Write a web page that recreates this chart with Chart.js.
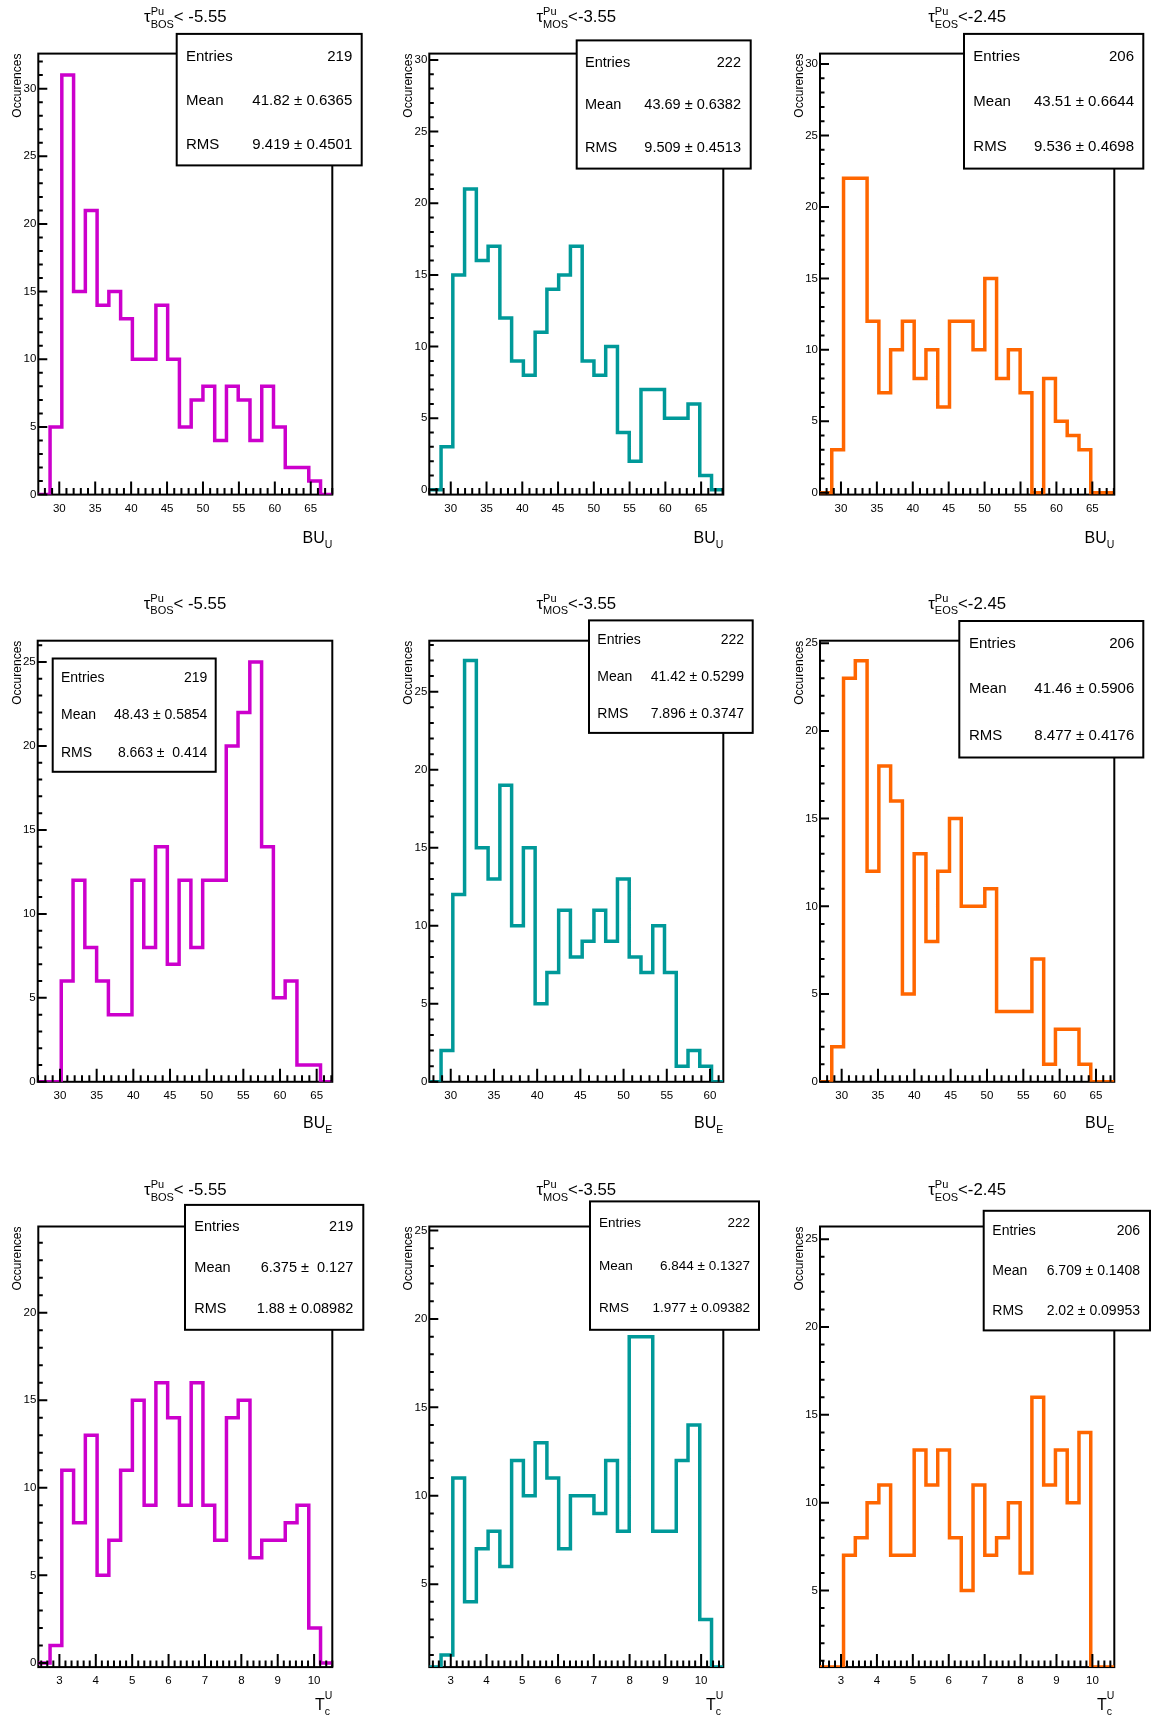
<!DOCTYPE html>
<html>
<head>
<meta charset="utf-8">
<script src="https://cdn.jsdelivr.net/npm/chart.js@4.4.0/dist/chart.umd.min.js"></script>
<style>
  body { margin: 0; background: #fff; }
  #page { position: relative; width: 1151px; height: 1717px; background: #fff; }
  canvas { position: absolute; }
</style>
</head>
<body>
<div id="page">
  <canvas id="c1" width="380" height="560" style="left:0px;top:0px"></canvas>
  <canvas id="c2" width="380" height="560" style="left:385px;top:0px"></canvas>
  <canvas id="c3" width="381" height="560" style="left:770px;top:0px"></canvas>
  <canvas id="c4" width="380" height="560" style="left:0px;top:580px"></canvas>
  <canvas id="c5" width="380" height="560" style="left:385px;top:580px"></canvas>
  <canvas id="c6" width="381" height="560" style="left:770px;top:580px"></canvas>
  <canvas id="c7" width="380" height="547" style="left:0px;top:1170px"></canvas>
  <canvas id="c8" width="380" height="547" style="left:385px;top:1170px"></canvas>
  <canvas id="c9" width="381" height="547" style="left:770px;top:1170px"></canvas>
</div>
<script>
// bin contents, 25 bins per histogram
var buuBos = [0, 5, 31, 15, 21, 14, 15, 13, 10, 10, 14, 10, 5, 7, 8, 4, 8, 7, 4, 8, 5, 2, 2, 1, 0];
var buuMos = [0, 3, 15, 21, 16, 17, 12, 9, 8, 11, 14, 15, 17, 9, 8, 10, 4, 2, 7, 7, 5, 5, 6, 1, 0];
var buuEos = [0, 3, 22, 22, 12, 7, 10, 12, 8, 10, 6, 12, 12, 10, 15, 8, 10, 7, 0, 8, 5, 4, 3, 0, 0];
var bueBos = [0, 0, 6, 12, 8, 6, 4, 4, 12, 8, 14, 7, 12, 8, 12, 12, 20, 22, 25, 14, 5, 6, 1, 1, 0];
var bueMos = [0, 2, 12, 27, 15, 13, 19, 10, 15, 5, 7, 11, 8, 9, 11, 9, 13, 8, 7, 10, 7, 1, 2, 1, 0];
var bueEos = [0, 2, 23, 24, 12, 18, 16, 5, 13, 8, 12, 15, 10, 10, 11, 4, 4, 4, 7, 1, 3, 3, 1, 0, 0];
var tcuBos = [0, 1, 11, 8, 13, 5, 7, 11, 15, 9, 16, 14, 9, 16, 9, 7, 14, 15, 6, 7, 7, 8, 9, 2, 0];
var tcuMos = [0, 1, 11, 4, 7, 8, 6, 12, 10, 13, 11, 7, 10, 10, 9, 12, 8, 19, 19, 8, 8, 12, 14, 3, 0];
var tcuEos = [0, 0, 7, 8, 10, 11, 7, 7, 13, 11, 13, 8, 5, 11, 7, 8, 10, 6, 16, 11, 13, 10, 14, 0, 0];

// tick labels
var buTicks = [30, 35, 40, 45, 50, 55, 60, 65];
var bueMosTicks = [30, 35, 40, 45, 50, 55, 60];
var tcTicks = [3, 4, 5, 6, 7, 8, 9, 10];
var yTicks = [0, 5, 10, 15, 20, 25, 30];

// titles and stats boxes
var phases = ['BOS', 'MOS', 'EOS'];
var cuts = ['< -5.55', '<-3.55', '<-2.45'];
var entries = [219, 222, 206];
var meanBuu = ['41.82 \u00b1 0.6365', '43.69 \u00b1 0.6382', '43.51 \u00b1 0.6644'];
var rmsBuu = ['9.419 \u00b1 0.4501', '9.509 \u00b1 0.4513', '9.536 \u00b1 0.4698'];
var meanBue = ['48.43 \u00b1 0.5854', '41.42 \u00b1 0.5299', '41.46 \u00b1 0.5906'];
var rmsBue = ['8.663 \u00b1  0.414', '7.896 \u00b1 0.3747', '8.477 \u00b1 0.4176'];
var meanTcu = ['6.375 \u00b1  0.127', '6.844 \u00b1 0.1327', '6.709 \u00b1 0.1408'];
var rmsTcu = ['1.88 \u00b1 0.08982', '1.977 \u00b1 0.09382', '2.02 \u00b1 0.09953'];

var lineColors = ['#cc00cc', '#009999', '#ff6600'];
var fontFam = '"Liberation Sans", Arial, Helvetica, sans-serif';
var nBins = 25;

Chart.defaults.font.family = fontFam;
Chart.defaults.color = '#000';

// layout of each pad (pixels inside its canvas)
var panels = [
    {id: 'c1', col: 0, values: buuBos, mean: meanBuu[0], rms: rmsBuu[0], xr: [27.08, 68.0], yr: [0, 32.59], xt: buTicks, xStep: 1, xMaj: 5,
     frame: [38.3, 53.6, 332.3, 494.6], box: [176.7, 33.9, 361.7, 165.4], rows: [56.4, 101.1, 144.6], tx: [186, 352.3], fs: 15,
     titleY: 22.2, xl: ['BU', 'U'], xlY: 542.9},
    {id: 'c2', col: 1, values: buuMos, mean: meanBuu[1], rms: rmsBuu[1], xr: [27.0, 68.1], yr: [-0.33, 30.44], xt: buTicks, xStep: 1, xMaj: 5,
     frame: [44.3, 53.6, 338.3, 494.6], box: [191.7, 40.4, 365.7, 168.6], rows: [63.2, 105.4, 148.2], tx: [200, 356], fs: 14.5,
     titleY: 22.2, xl: ['BU', 'U'], xlY: 542.9},
    {id: 'c3', col: 2, values: buuEos, mean: meanBuu[2], rms: rmsBuu[2], xr: [27.08, 68.06], yr: [-0.13, 30.73], xt: buTicks, xStep: 1, xMaj: 5,
     frame: [50, 53.6, 344.3, 494.6], box: [194, 33.9, 373.3, 168.6], rows: [57.1, 101.8, 146.5], tx: [203.3, 364], fs: 15,
     titleY: 22.2, xl: ['BU', 'U'], xlY: 542.9},
    {id: 'c4', col: 0, values: bueBos, mean: meanBue[0], rms: rmsBue[0], xr: [26.96, 67.13], yr: [0, 26.27], xt: buTicks, xStep: 1, xMaj: 5,
     frame: [37.7, 60.7, 332.3, 501.8], box: [52.7, 78.5, 215.7, 191.8], rows: [98.2, 135, 173.2], tx: [61, 207.3], fs: 14,
     titleY: 28.6, xl: ['BU', 'E'], xlY: 548.2},
    {id: 'c5', col: 1, values: bueMos, mean: meanBue[1], rms: rmsBue[1], xr: [27.52, 61.54], yr: [0, 28.27], xt: bueMosTicks, xStep: 1, xMaj: 5,
     frame: [44.3, 60.7, 338.3, 501.8], box: [204, 40.4, 367.7, 152.9], rows: [60, 97.2, 133.9], tx: [212.3, 359], fs: 14,
     titleY: 28.6, xl: ['BU', 'E'], xlY: 548.2},
    {id: 'c6', col: 2, values: bueEos, mean: meanBue[2], rms: rmsBue[2], xr: [27.02, 67.52], yr: [0, 25.14], xt: buTicks, xStep: 1, xMaj: 5,
     frame: [50, 60.7, 344.3, 501.8], box: [189.3, 41, 373.3, 177.5], rows: [63.5, 109.3, 155.4], tx: [199, 364.3], fs: 15,
     titleY: 28.6, xl: ['BU', 'E'], xlY: 548.2},
    {id: 'c7', col: 0, values: tcuBos, mean: meanTcu[0], rms: rmsTcu[0], xr: [2.42, 10.50], yr: [-0.24, 24.93], xt: tcTicks, xStep: 1 / 6, xMaj: 1,
     frame: [38.3, 56.5, 332.3, 497.1], box: [185, 34.9, 363.3, 159.8], rows: [56.5, 98.4, 138.9], tx: [194.3, 353.3], fs: 14.5,
     titleY: 25.1, xl: null, xlY: 540},
    {id: 'c8', col: 1, values: tcuMos, mean: meanTcu[1], rms: rmsTcu[1], xr: [2.40, 10.62], yr: [0.31, 25.23], xt: tcTicks, xStep: 1 / 6, xMaj: 1,
     frame: [44.3, 56.5, 338.3, 497.1], box: [205, 31.4, 374, 159.8], rows: [53.4, 96.6, 138.5], tx: [214, 365], fs: 13.5,
     titleY: 25.1, xl: null, xlY: 540},
    {id: 'c9', col: 2, values: tcuEos, mean: meanTcu[2], rms: rmsTcu[2], xr: [2.415, 10.61], yr: [0.64, 25.72], xt: tcTicks, xStep: 1 / 6, xMaj: 1,
     frame: [50, 56.5, 344.3, 497.1], box: [213.7, 40.8, 380, 160.4], rows: [61, 101.2, 141.3], tx: [222.3, 370], fs: 14,
     titleY: 25.1, xl: null, xlY: 540}
];

function rootDecor(p) {
    return {
        id: 'rootDecor',
        beforeDatasetsDraw: function (chart) {
            var a = chart.chartArea, ctx = chart.ctx;
            ctx.save();
            ctx.lineWidth = 2;
            ctx.strokeStyle = '#000';
            ctx.strokeRect(a.left, a.top, a.right - a.left, a.bottom - a.top);
            ctx.restore();
        },
        afterDatasetsDraw: function (chart) {
            var a = chart.chartArea, ctx = chart.ctx, xs = chart.scales.x, ys = chart.scales.y;
            ctx.save();
            ctx.lineWidth = 2;
            ctx.strokeStyle = '#000';
            ctx.beginPath();
            var k0 = Math.ceil(xs.min / p.xStep - 1e-6), k1 = Math.floor(xs.max / p.xStep + 1e-6);
            for (var k = k0; k <= k1; k++) {
                var v = k * p.xStep;
                var major = Math.abs(v / p.xMaj - Math.round(v / p.xMaj)) < 1e-6;
                var px = xs.getPixelForValue(v);
                ctx.moveTo(px, a.bottom);
                ctx.lineTo(px, a.bottom - (major ? 13 : 6.5));
            }
            for (var j = Math.ceil(ys.min); j <= Math.floor(ys.max); j++) {
                var py = ys.getPixelForValue(j);
                ctx.moveTo(a.left, py);
                ctx.lineTo(a.left + (j % 5 === 0 ? 9 : 4.5), py);
            }
            ctx.stroke();
            ctx.restore();
        },
        afterDraw: function (chart) {
            var a = chart.chartArea, ctx = chart.ctx;
            ctx.save();
            ctx.fillStyle = '#000';
            ctx.textBaseline = 'alphabetic';

            // pad title: tau^Pu_XXX < cut
            var cx = (a.left + a.right) / 2;
            var cut = cuts[p.col], ph = phases[p.col];
            ctx.font = '16.8px ' + fontFam;
            var wt = ctx.measureText('\u03c4').width, wc = ctx.measureText(cut).width;
            ctx.font = '11px ' + fontFam;
            var ws = Math.max(ctx.measureText('Pu').width, ctx.measureText(ph).width);
            var x0 = cx - (wt + ws + wc) / 2;
            ctx.textAlign = 'left';
            ctx.font = '16.8px ' + fontFam;
            ctx.fillText('\u03c4', x0, p.titleY);
            ctx.fillText(cut, x0 + wt + ws, p.titleY);
            ctx.font = '11px ' + fontFam;
            ctx.fillText('Pu', x0 + wt, p.titleY - 7);
            ctx.fillText(ph, x0 + wt, p.titleY + 5.5);

            // x axis title, right aligned on the frame
            if (p.xl) {
                ctx.font = '10.5px ' + fontFam;
                var wsub = ctx.measureText(p.xl[1]).width;
                ctx.fillText(p.xl[1], a.right - wsub, p.xlY + 5);
                ctx.font = '16px ' + fontFam;
                ctx.textAlign = 'right';
                ctx.fillText(p.xl[0], a.right - wsub, p.xlY);
            } else {
                ctx.font = '10.5px ' + fontFam;
                var wu = ctx.measureText('U').width;
                ctx.textAlign = 'left';
                ctx.fillText('U', a.right - wu, p.xlY - 11);
                ctx.fillText('c', a.right - wu, p.xlY + 5);
                ctx.font = '16px ' + fontFam;
                ctx.textAlign = 'right';
                ctx.fillText('T', a.right - wu, p.xlY);
            }

            // stats box
            var b = p.box;
            ctx.fillStyle = '#fff';
            ctx.fillRect(b[0], b[1], b[2] - b[0], b[3] - b[1]);
            ctx.lineWidth = 2;
            ctx.strokeStyle = '#000';
            ctx.strokeRect(b[0], b[1], b[2] - b[0], b[3] - b[1]);
            ctx.fillStyle = '#000';
            ctx.font = p.fs + 'px ' + fontFam;
            ctx.textBaseline = 'middle';
            var labels = ['Entries', 'Mean', 'RMS'];
            var vals = [String(entries[p.col]), p.mean, p.rms];
            for (var i = 0; i < 3; i++) {
                ctx.textAlign = 'left';
                ctx.fillText(labels[i], p.tx[0], p.rows[i]);
                ctx.textAlign = 'right';
                ctx.fillText(vals[i], p.tx[1], p.rows[i]);
            }
            ctx.restore();
        }
    };
}

panels.forEach(function (p) {
    var canvas = document.getElementById(p.id);
    var W = canvas.width, H = canvas.height;
    var f = p.frame;
    var bw = (p.xr[1] - p.xr[0]) / nBins;
    var pts = p.values.map(function (v, i) {
        return {x: p.xr[0] + i * bw, y: Math.max(v, p.yr[0])};
    });
    pts.push({x: p.xr[1], y: Math.max(p.values[nBins - 1], p.yr[0])});
    var yt = yTicks.filter(function (v) { return v >= p.yr[0] && v <= p.yr[1]; });

    new Chart(canvas.getContext('2d'), {
        type: 'line',
        data: {
            datasets: [{
                data: pts,
                borderColor: lineColors[p.col],
                borderWidth: 3.5,
                pointRadius: 0,
                stepped: true,
                fill: false
            }]
        },
        options: {
            responsive: false,
            animation: false,
            events: [],
            layout: {padding: {left: 0, top: f[1], right: W - f[2], bottom: H - f[3] - 30}},
            plugins: {legend: {display: false}, tooltip: {enabled: false}},
            scales: {
                x: {
                    type: 'linear',
                    min: p.xr[0],
                    max: p.xr[1],
                    grid: {display: false, drawTicks: false},
                    border: {display: false},
                    ticks: {font: {size: 11.5}, color: '#000', padding: 7, autoSkip: false, maxRotation: 0,
                        callback: function (v) { return String(v); }},
                    afterBuildTicks: function (s) { s.ticks = p.xt.map(function (v) { return {value: v}; }); },
                    afterFit: function (s) { s.height = 30; }
                },
                y: {
                    type: 'linear',
                    min: p.yr[0],
                    max: p.yr[1],
                    grid: {display: false, drawTicks: false},
                    border: {display: false},
                    ticks: {font: {size: 11.5}, color: '#000', padding: 2,
                        callback: function (v) { return String(v); }},
                    afterBuildTicks: function (s) { s.ticks = yt.map(function (v) { return {value: v}; }); },
                    title: {display: true, text: 'Occurences', align: 'end', color: '#000', font: {size: 12},
                        padding: {top: f[0] - 20.3 - 7.2, bottom: 0}},
                    afterFit: function (s) { s.width = f[0]; }
                }
            }
        },
        plugins: [rootDecor(p)]
    });
});
</script>
</body>
</html>
